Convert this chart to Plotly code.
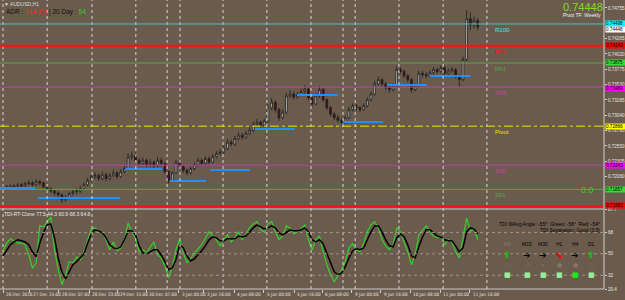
import plotly.graph_objects as go

# ---------------- data ----------------
closes = [0.7190,0.7188,0.7191,0.7190,0.7193,0.7191,0.7195,0.7196,0.7193,0.7198,
          0.7196,0.7190,0.7187,0.7183,0.7180,0.7177,0.7169,0.7172,0.7179,0.7182,
          0.7183,0.7187,0.7193,0.7200,0.7206,0.7208,0.7203,0.7209,0.7203,0.7208,
          0.7212,0.7206,0.7214,0.7219,0.7237,0.7240,0.7232,0.7227,0.7232,0.7225,
          0.7229,0.7224,0.7232,0.7227,0.7214,0.7200,0.7212,0.7229,0.7222,0.7216,
          0.7212,0.7219,0.7225,0.7232,0.7227,0.7235,0.7229,0.7238,0.7243,0.7245,
          0.7251,0.7261,0.7258,0.7267,0.7272,0.7269,0.7275,0.7280,0.7290,0.7293,
          0.7288,0.7295,0.7316,0.7325,0.7313,0.7300,0.7309,0.7335,0.7338,0.7333,
          0.7337,0.7342,0.7346,0.7332,0.7322,0.7335,0.7345,0.7329,0.7316,0.7306,
          0.7300,0.7296,0.7293,0.7300,0.7313,0.7319,0.7316,0.7313,0.7319,0.7329,
          0.7338,0.7354,0.7361,0.7354,0.7348,0.7345,0.7351,0.7377,0.7374,0.7367,
          0.7361,0.7345,0.7351,0.7371,0.7369,0.7367,0.7372,0.7377,0.7374,0.7380,
          0.7371,0.7375,0.7377,0.7367,0.7361,0.7393,0.7458,0.7448,0.7455,0.7445]
highs = [0.7194,0.7193,0.7194,0.7195,0.7196,0.7196,0.7198,0.7200,0.7199,0.7202,
         0.7201,0.7198,0.7192,0.7189,0.7186,0.7183,0.7179,0.7176,0.7182,0.7186,
         0.7188,0.7191,0.7197,0.7204,0.7210,0.7213,0.7211,0.7214,0.7212,0.7212,
         0.7217,0.7215,0.7218,0.7223,0.7243,0.7246,0.7244,0.7236,0.7237,0.7235,
         0.7234,0.7232,0.7238,0.7236,0.7229,0.7216,0.7215,0.7233,0.7232,0.7225,
         0.7219,0.7222,0.7229,0.7236,0.7235,0.7239,0.7238,0.7242,0.7247,0.7250,
         0.7256,0.7266,0.7265,0.7271,0.7277,0.7276,0.7279,0.7285,0.7294,0.7298,
         0.7296,0.7299,0.7322,0.7332,0.7328,0.7316,0.7314,0.7340,0.7344,0.7342,
         0.7341,0.7347,0.7352,0.7349,0.7335,0.7339,0.7351,0.7348,0.7331,0.7319,
         0.7309,0.7304,0.7300,0.7303,0.7317,0.7323,0.7322,0.7319,0.7323,0.7333,
         0.7342,0.7359,0.7366,0.7364,0.7357,0.7351,0.7355,0.7382,0.7381,0.7377,
         0.7370,0.7363,0.7355,0.7375,0.7375,0.7373,0.7376,0.7381,0.7380,0.7384,
         0.7383,0.7379,0.7381,0.7379,0.7370,0.7398,0.7472,0.7468,0.7462,0.7459]
lows = [0.7186,0.7185,0.7186,0.7187,0.7188,0.7188,0.7189,0.7192,0.7190,0.7191,
        0.7192,0.7187,0.7183,0.7180,0.7176,0.7172,0.7164,0.7166,0.7170,0.7176,
        0.7178,0.7180,0.7185,0.7190,0.7197,0.7202,0.7199,0.7200,0.7198,0.7200,
        0.7205,0.7202,0.7204,0.7211,0.7216,0.7233,0.7228,0.7223,0.7224,0.7221,
        0.7222,0.7220,0.7221,0.7223,0.7210,0.7195,0.7198,0.7210,0.7218,0.7212,
        0.7208,0.7209,0.7216,0.7222,0.7223,0.7224,0.7226,0.7227,0.7235,0.7240,
        0.7242,0.7248,0.7254,0.7255,0.7264,0.7265,0.7266,0.7272,0.7277,0.7286,
        0.7284,0.7285,0.7292,0.7312,0.7308,0.7295,0.7297,0.7306,0.7331,0.7329,
        0.7330,0.7334,0.7339,0.7328,0.7318,0.7320,0.7332,0.7325,0.7312,0.7302,
        0.7296,0.7292,0.7289,0.7290,0.7298,0.7310,0.7312,0.7309,0.7311,0.7316,
        0.7326,0.7335,0.7351,0.7350,0.7344,0.7340,0.7342,0.7349,0.7370,0.7363,
        0.7357,0.7340,0.7342,0.7349,0.7365,0.7363,0.7364,0.7369,0.7370,0.7371,
        0.7367,0.7368,0.7372,0.7363,0.7350,0.7358,0.7390,0.7440,0.7443,0.7440]
first_open = 0.7188
opens = [first_open] + closes[:-1]
bars = list(range(len(closes)))

tdi_green = [52.5,59,62.6,61,59,59,57.6,49,38,42.4,
             73.5,72.7,77,81,53.4,36.6,24,31.5,43.3,42.4,
             47.5,45,51.7,61.8,71,71.8,68.5,67.6,61.8,53.4,
             60,52.5,55,61.8,76,68.5,63.4,51.7,53.4,50.8,
             55,60,49,46.6,40,30,39,53.4,61.8,50.8,
             42.4,46.6,50.8,54.2,57.6,63.4,68.5,65,61.8,56.7,
             61.8,66,60,63.4,68.5,61.8,66,71.8,75.2,77,
             70.2,68.5,75.2,77,68.5,61.8,65,73.5,71.8,66.8,
             68.5,71.8,74.4,61.8,53.4,61.8,65,51.7,40.8,32.4,
             26.5,31.5,36.6,43.3,55,58.4,53.4,51.7,58.4,68.5,
             74.4,77,71.8,61.8,56.7,53.4,57.6,71.8,68.5,60,
             51.7,40.8,49,66,70.2,73.5,68.5,65,63.4,65,
             57.6,61.8,60,51.7,46.6,63.4,80.2,68.5,71.8,61.8]
tdi_black = [48.3,53.4,57.6,60,61.8,61,60,57.6,51.7,47.5,
             59,67.6,74.4,75.2,63.4,46.6,34.9,29,34.9,40.8,
             43.3,46.6,50,59,66.8,70.2,69.3,67.6,63.4,57.6,
             55,54.2,55.9,61.8,69.3,69.3,66,56.7,50.8,50,
             51.7,53.4,53.4,49,43.3,36.6,38.2,45,57.6,55,
             48.3,44,45.8,49,52.5,56.7,61.8,64.2,63.4,61,
             61,62.6,62.6,62.6,65,64.2,65,68.5,71.8,74.4,
             72.7,71,71.8,73.5,71.8,67.6,66,68.5,70.2,69.3,
             69.3,70.2,71.8,68.5,61.8,60,61.8,58.4,50.8,42.4,
             34.9,32.4,34,39,46.6,52.5,54.2,53.4,55,61.8,
             68.5,73.5,73.5,68.5,61.8,56.7,55.9,63.4,66.8,64.2,
             57.6,48.3,46.6,55.9,64.2,70.2,70.2,67.6,65,64.2,
             61.8,61,61,56.7,51.7,55,68.5,71.8,71,66.8]

date_labels = ["26 Dec 2016","27 Dec 15:00","28 Dec 07:00","28 Dec 23:00","29 Dec 15:00",
               "30 Dec 07:00","3 Jan 00:00","3 Jan 16:00","4 Jan 08:00","5 Jan 00:00",
               "5 Jan 16:00","6 Jan 08:00","9 Jan 00:00","9 Jan 16:00","10 Jan 08:00",
               "11 Jan 00:00","11 Jan 16:00"]
date_bars = [0, 7.3, 15.2, 23.4, 31, 38.9, 47.8, 54.6, 62.8, 70.9, 79.1, 86.7, 94.8,
             102.7, 110.6, 118.8, 126.9]
separator_bars = [0, 12, 24.2, 36.1, 44.6, 48.1, 59.8, 71.7, 83.7, 92.4, 95.7, 107.6, 119.6, 131.5]

level_names = ["R100", "R78", "R61", "R38", "Pivot", "S38", "S61", "S78"]
level_values = [0.74498, 0.74149, 0.73875, 0.73489, 0.72866, 0.72243, 0.71857, 0.71583]
level_colors = ["#3ec8c8", "#ff1010", "#5aa84a", "#c040b0", "#e8e800", "#c040b0", "#5aa84a", "#ff1010"]
level_box_colors = ["#00ffff", "#ff0000", "#33dd33", "#ff00ff", "#ffff00", "#ff00ff", "#33dd33", "#ff0000"]
level_box_shift = [0, 0, 0, -1, 0, 0, 0, 1]

blue_start = [-0.8, 9.5, 33.2, 45.4, 56.3, 68.5, 79.9, 92.4, 104.3, 116.0]
blue_end = [8.7, 31.8, 43.2, 55.2, 67.1, 79.3, 91.0, 103.3, 115.2, 127.0]
blue_level = [0.71879, 0.71719, 0.72182, 0.71990, 0.72166, 0.72821, 0.73364, 0.72933, 0.73524, 0.73667]

price_ticks = [0.74755, 0.74265, 0.74020, 0.73775, 0.73530, 0.73285, 0.73040,
               0.72795, 0.72550, 0.72305, 0.72060]
tdi_ticks = [20.4, 32, 50, 68, 87.7]
last_price = 0.74448

tf_names = ["M5", "M15", "M30", "H1", "H4", "D1"]
tf_arrows = ["⬆", "➔", "➔", "⬊", "➔", "⬆"]
tf_arrow_colors = ["#10c010", "#000000", "#000000", "#ff0000", "#000000", "#10c010"]
tf_dots = ["○", "↗", "•", "●", "●", "○"]
tf_square_colors = ["#98ee98", "#98ee98", "#98ee98", "#98ee98", "#10f010", "#98ee98"]

# ---------------- layout constants ----------------
W, H = 625, 300
BG = "#6b5b4c"
PLOT_R = 604 / W
X_RANGE = [-0.815, 163.32]
MAIN_DOM = [1 - 208 / H, 1]
TDI_DOM = [1 - 289 / H, 1 - 209 / H]
FONT = "Liberation Sans"
NARROW = "Liberation Sans Narrow, DejaVu Sans Condensed, Liberation Sans"
TXT = "#e6e6e6"

fig = go.Figure()

fig.add_trace(go.Candlestick(
    x=bars, open=opens, high=highs, low=lows, close=closes,
    increasing=dict(line=dict(color="#202020", width=0.8), fillcolor="#bdbdbd"),
    decreasing=dict(line=dict(color="#202020", width=0.8), fillcolor="#5a0c0c"),
    whiskerwidth=0, xaxis="x", yaxis="y", showlegend=False, hoverinfo="skip"))

for s, e, v in zip(blue_start, blue_end, blue_level):
    fig.add_trace(go.Scatter(x=[s, e], y=[v, v], mode="lines", line=dict(color="#1e90ff", width=2),
                             xaxis="x", yaxis="y", showlegend=False, hoverinfo="skip"))

fig.add_trace(go.Scatter(x=bars, y=tdi_green, mode="lines", line=dict(color="#36d02a", width=1.2),
                         xaxis="x2", yaxis="y2", showlegend=False, hoverinfo="skip"))
fig.add_trace(go.Scatter(x=bars, y=tdi_black, mode="lines", line=dict(color="#000000", width=1.5),
                         xaxis="x2", yaxis="y2", showlegend=False, hoverinfo="skip"))

shapes = []
for b in separator_bars:
    shapes.append(dict(type="line", xref="x", yref="paper", x0=b, x1=b, y0=TDI_DOM[0], y1=1,
                       line=dict(color="#d8d8d8", width=1, dash="dot")))
for v in [32, 50, 68]:
    shapes.append(dict(type="line", xref="paper", yref="y2", x0=0, x1=PLOT_R, y0=v, y1=v,
                       line=dict(color="#a09488", width=1, dash="dot")))
for name, v, c in zip(level_names, level_values, level_colors):
    wdt = 2 if c == "#ff1010" else 1
    dash = "dashdot" if name == "Pivot" else "solid"
    shapes.append(dict(type="line", xref="paper", yref="y", x0=0, x1=PLOT_R, y0=v, y1=v,
                       line=dict(color=c, width=wdt, dash=dash)))
shapes.append(dict(type="line", xref="paper", yref="paper", x0=PLOT_R, x1=PLOT_R, y0=TDI_DOM[0], y1=1,
                   line=dict(color="#d0d0d0", width=1)))
shapes.append(dict(type="line", xref="paper", yref="paper", x0=0, x1=PLOT_R, y0=1 - 209 / H, y1=1 - 209 / H,
                   line=dict(color="#c8c8c8", width=1)))
shapes.append(dict(type="line", xref="paper", yref="paper", x0=0, x1=PLOT_R, y0=TDI_DOM[0], y1=TDI_DOM[0],
                   line=dict(color="#c8c8c8", width=1)))

ann = []
def px(xp):
    return xp / W
def py(yp):
    return 1 - yp / H

for name, v, c in zip(level_names, level_values, level_colors):
    if name == "S78":
        continue
    ann.append(dict(x=px(493), y=v, xref="paper", yref="y", text=name, showarrow=False,
                    xanchor="left", yanchor="top", yshift=-1,
                    font=dict(family=FONT, size=6, color=c if c != "#3ec8c8" else "#40e8e8")))
for name, v, c, sh in zip(level_names, level_values, level_box_colors, level_box_shift):
    ann.append(dict(x=px(605), y=v, xref="paper", yref="y", text=f"{v:.5f}", showarrow=False,
                    xanchor="left", yanchor="middle", bgcolor=c, borderpad=0, width=20, align="left",
                    yshift=sh, font=dict(family=FONT, size=4.6, color="#000000")))
ann.append(dict(x=px(605), y=last_price, xref="paper", yref="y", text=f"{last_price:.5f}", showarrow=False,
                xanchor="left", yanchor="top", bgcolor="#ffffff", borderpad=0, width=20, align="left",
                yshift=1, font=dict(family=FONT, size=4.6, color="#000000")))

# date labels, left-aligned after their tick marks
for b, lab in zip(date_bars, date_labels):
    ann.append(dict(x=b, y=py(294.5), xref="x2", yref="paper", text=lab, showarrow=False,
                    xanchor="left", yanchor="middle", xshift=1,
                    font=dict(family=NARROW, size=4.6, color=TXT)))

ann.append(dict(x=px(2), y=py(4), xref="paper", yref="paper", text="▼ AUDUSD,H1", showarrow=False,
                xanchor="left", yanchor="middle", font=dict(family=FONT, size=5, color="#dcdcdc")))
ann.append(dict(x=px(4), y=py(12), xref="paper", yref="paper",
                text="<span style='color:#101010'>ADR : </span><span style='color:#ff2020'>214.2%</span>"
                     "<span style='color:#101010'> | 20 Day : </span><span style='color:#30d030'>54</span>",
                showarrow=False, xanchor="left", yanchor="middle", font=dict(family=FONT, size=6.5)))
ann.append(dict(x=px(605), y=py(7), xref="paper", yref="paper", text=f"{last_price:.5f}", showarrow=False,
                xanchor="right", yanchor="middle", font=dict(family=FONT, size=11, color="#7fdc20")))
ann.append(dict(x=px(603), y=py(15), xref="paper", yref="paper", text="Pivot TF: Weekly", showarrow=False,
                xanchor="right", yanchor="middle", font=dict(family=FONT, size=5, color="#f0f0f0")))
ann.append(dict(x=px(596), y=py(190), xref="paper", yref="paper", text="0.0", showarrow=False,
                xanchor="right", yanchor="middle", font=dict(family=FONT, size=9, color="#33cc33")))

ann.append(dict(x=px(2), y=py(214), xref="paper", yref="paper", text="TDI-RT-Clone 77.5 44.3 60.9 68.3 64.8",
                showarrow=False, xanchor="left", yanchor="middle", font=dict(family=FONT, size=5, color="#e8e8e8")))
ann.append(dict(x=px(602), y=py(224), xref="paper", yref="paper",
                text="TDI WAvg Angle: -55°  Green: -56°  Red: -54°", showarrow=False,
                xanchor="right", yanchor="middle", font=dict(family=FONT, size=5, color="#000000")))
ann.append(dict(x=px(602), y=py(230), xref="paper", yref="paper",
                text="TDI Separation: Good [3.5]", showarrow=False,
                xanchor="right", yanchor="middle", font=dict(family=FONT, size=5, color="#000000")))
tf_x = [507, 527, 543, 559, 575, 591]
for i, (n, a, ac, d, sc) in enumerate(zip(tf_names, tf_arrows, tf_arrow_colors, tf_dots, tf_square_colors)):
    ann.append(dict(x=px(tf_x[i]), y=py(244), xref="paper", yref="paper", text=n, showarrow=False,
                    xanchor="center", yanchor="middle",
                    font=dict(family=FONT, size=5, color="#8a7c70" if n == "M5" else "#000000")))
    ann.append(dict(x=px(tf_x[i]), y=py(255), xref="paper", yref="paper", text=f"<b>{a}</b>", showarrow=False,
                    xanchor="center", yanchor="middle", font=dict(family="DejaVu Sans", size=9, color=ac)))
    ann.append(dict(x=px(tf_x[i]), y=py(264), xref="paper", yref="paper", text=d, showarrow=False,
                    xanchor="center", yanchor="middle", font=dict(family="DejaVu Sans", size=6, color="#857565")))
    ann.append(dict(x=px(tf_x[i]), y=py(275), xref="paper", yref="paper", text="■", showarrow=False,
                    xanchor="center", yanchor="middle", font=dict(family="DejaVu Sans", size=7, color=sc)))

fig.update_layout(
    template="none",
    width=W, height=H, margin=dict(l=0, r=0, t=0, b=0, pad=0),
    paper_bgcolor=BG, plot_bgcolor=BG, showlegend=False,
    shapes=shapes, annotations=ann,
    xaxis=dict(domain=[0, PLOT_R], range=X_RANGE, anchor="y", showgrid=False, zeroline=False,
               showticklabels=False, ticks="", rangeslider=dict(visible=False), fixedrange=True,
               automargin=False, showline=False),
    yaxis=dict(domain=MAIN_DOM, range=[0.71559, 0.74881], anchor="x", side="right", showgrid=False,
               zeroline=False, tickvals=price_ticks, ticktext=[f"{v:.5f}" for v in price_ticks],
               ticks="outside", ticklen=2, tickcolor="#d0d0d0", automargin=False, showline=False,
               tickfont=dict(family=FONT, size=4.6, color=TXT), fixedrange=True),
    xaxis2=dict(domain=[0, PLOT_R], range=X_RANGE, anchor="y2", showgrid=False, zeroline=False,
                tickvals=date_bars, ticks="outside", ticklen=3, tickcolor="#d0d0d0",
                showticklabels=False, automargin=False, showline=False, fixedrange=True),
    yaxis2=dict(domain=TDI_DOM, range=[20.4, 87.7], anchor="x2", side="right", showgrid=False,
                zeroline=False, tickvals=tdi_ticks, ticktext=["20.4", "32", "50", "68", "87.7"],
                ticks="outside", ticklen=2, tickcolor="#d0d0d0", automargin=False, showline=False,
                tickfont=dict(family=FONT, size=4.6, color=TXT), fixedrange=True),
)

fig.write_html("out.html")
